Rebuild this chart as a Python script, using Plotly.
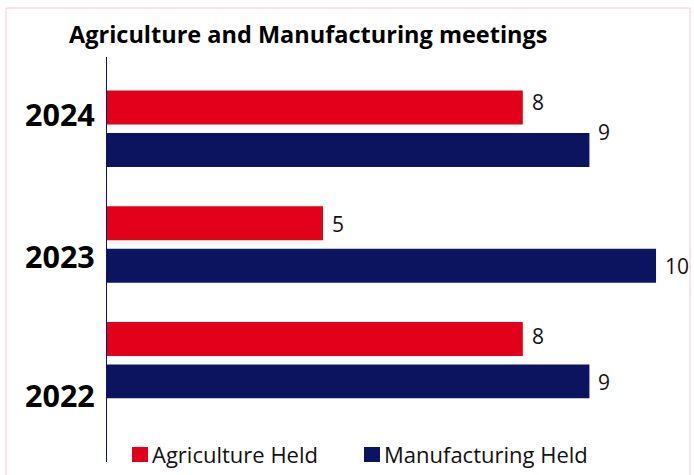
import plotly.graph_objects as go

# ---- data ----
years = ["2024", "2023", "2022"]
agriculture_held = [8, 5, 8]
manufacturing_held = [9, 10, 9]
series_names = ["Agriculture Held", "Manufacturing Held"]
title_text = "Agriculture and Manufacturing meetings"

# ---- style ----
RED = "#e2001a"
NAVY = "#0c1460"
BORDER = "#f6c9d1"
FONT = "Open Sans"

W, H = 694, 475
ML, MR, MT, MB = 107, 4, 57, 13
PW = W - ML - MR
PH = H - MT - MB


def px_x(px):
    return (px - ML) / PW


def px_y(py):
    return 1 - (py - MT) / PH


# vertical nudges (pixels) for the value labels and year labels
agri_label_shift = [27, 20, 24]
manu_label_shift = [-3, -22, -22]
year_label_shift = [15, -12, -35]

fig = go.Figure()
fig.add_trace(go.Bar(
    y=years, x=agriculture_held, orientation="h", name=series_names[0],
    marker=dict(color=RED, line=dict(width=0)), showlegend=False,
))
fig.add_trace(go.Bar(
    y=years, x=manufacturing_held, orientation="h", name=series_names[1],
    marker=dict(color=NAVY, line=dict(width=0)), showlegend=False,
))

annotations = []
# value labels at the end of each bar (y given as category index)
for vals, shifts in ((agriculture_held, agri_label_shift),
                     (manufacturing_held, manu_label_shift)):
    for idx, (v, s) in enumerate(zip(vals, shifts)):
        annotations.append(dict(
            x=v, y=idx, xref="x", yref="y", text=str(v), showarrow=False,
            xanchor="left", yanchor="middle", xshift=7, yshift=s,
            font=dict(family=FONT, size=21, color="#111111"),
        ))

# year labels to the left of the axis
for idx, (yr, s) in enumerate(zip(years, year_label_shift)):
    annotations.append(dict(
        x=px_x(97), y=idx, xref="paper", yref="y", text=f"<b>{yr}</b>",
        showarrow=False, xanchor="right", yanchor="middle", yshift=s,
        font=dict(family=FONT, size=30.5, color="#000000"),
    ))

# title
annotations.append(dict(
    x=px_x(67), y=px_y(34), xref="paper", yref="paper",
    text=f"<b>{title_text}</b>", showarrow=False,
    xanchor="left", yanchor="middle",
    font=dict(family=FONT, size=23.5, color="#000000"),
))

shapes = [
    # outer frame
    dict(type="rect", xref="paper", yref="paper",
         x0=px_x(6), x1=px_x(690), y0=px_y(490), y1=px_y(8),
         line=dict(color=BORDER, width=1), fillcolor="rgba(0,0,0,0)", layer="below"),
]

# legend
legend_items = [(series_names[0], RED, 132), (series_names[1], NAVY, 364)]
for name, color, x0 in legend_items:
    shapes.append(dict(type="rect", xref="paper", yref="paper",
                       x0=px_x(x0), x1=px_x(x0 + 16), y0=px_y(462), y1=px_y(447),
                       line=dict(width=0), fillcolor=color))
    annotations.append(dict(
        x=px_x(x0 + 18), y=px_y(454), xref="paper", yref="paper", text=name,
        showarrow=False, xanchor="left", yanchor="middle",
        font=dict(family=FONT, size=22, color="#111111"),
    ))

fig.update_layout(
    width=W, height=H,
    margin=dict(l=ML, r=MR, t=MT, b=MB, pad=0),
    paper_bgcolor="white", plot_bgcolor="white",
    barmode="group", bargap=0.267, bargroupgap=0.2,
    xaxis=dict(range=[1.757, 10.51], visible=False, fixedrange=True),
    yaxis=dict(type="category", categoryorder="array", categoryarray=years,
               range=[2.88, -0.62], showline=True, linecolor=NAVY, linewidth=1,
               showticklabels=False, ticks="", showgrid=False, zeroline=False),
    annotations=annotations, shapes=shapes,
    font=dict(family=FONT),
)

fig.write_html("out.html")
